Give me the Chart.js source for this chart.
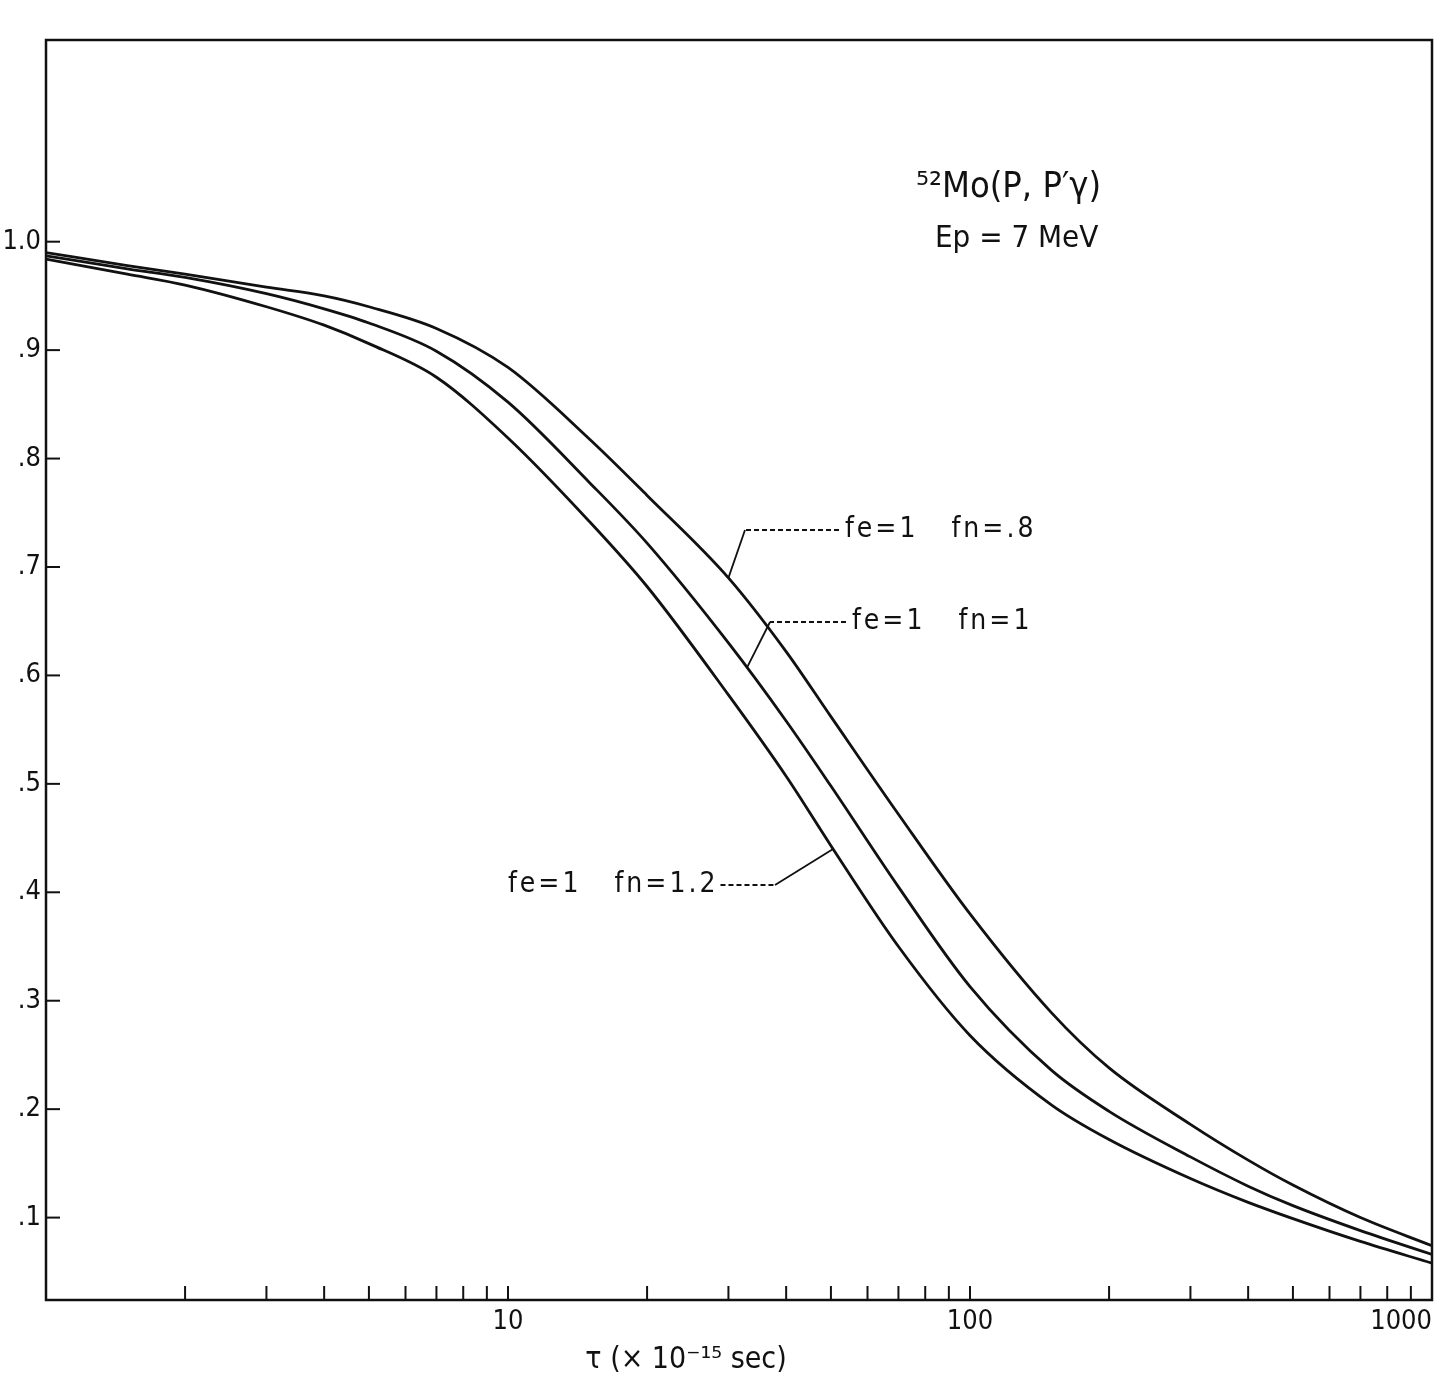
<!DOCTYPE html>
<html>
<head>
<meta charset="utf-8">
<script src="https://cdn.jsdelivr.net/npm/chart.js@4.4.1/dist/chart.umd.min.js"></script>
<style>
  html, body { margin: 0; padding: 0; background: #fff; }
  #wrap { width: 1448px; height: 1387px; }
</style>
</head>
<body>
<div id="wrap"><canvas id="chart" width="1448" height="1387"></canvas></div>
<script>
// lifetime tau (x 10^-15 sec)
var tau  = [1, 1.5, 2, 3, 4, 5, 7, 10, 15, 20, 30, 40, 50, 70, 100, 150, 200, 300, 400, 500, 700, 1000];
// attenuation, fe = 1, three values of fn
var fn08 = [.990, .978, .970, .958, .950, .940, .920, .884, .818, .766, .690, .622, .562, .472, .380, .289, .238, .186, .153, .130, .100, .074];
var fn10 = [.987, .975, .967, .952, .938, .925, .899, .852, .778, .722, .630, .558, .498, .405, .313, .236, .198, .156, .129, .111, .088, .066];
var fn12 = [.984, .970, .960, .940, .923, .906, .875, .819, .742, .682, .582, .507, .443, .350, .268, .204, .172, .136, .114, .099, .078, .058];

var xTicks = [1, 2, 3, 4, 5, 6, 7, 8, 9, 10, 20, 30, 40, 50, 60, 70, 80, 90, 100,
              200, 300, 400, 500, 600, 700, 800, 900, 1000];
var xLabels = { 10: '10', 100: '100', 1000: '1000' };
var yTicks = [.1, .2, .3, .4, .5, .6, .7, .8, .9, 1.0];
var yLabels = ['.1', '.2', '.3', '.4', '.5', '.6', '.7', '.8', '.9', '1.0'];

var FONT = "'DejaVu Sans Condensed', 'DejaVu Sans', sans-serif";
var INK = '#111';

// curve captions: text, which dataset, value where the leader meets the curve
var captions = [
  { text: 'fe=1   fn=.8',  ds: 0, touch: .69,  tx: 845, ty: 530, elbow: 745 },
  { text: 'fe=1   fn=1',   ds: 1, touch: .607, tx: 852, ty: 622, elbow: 770 },
  { text: 'fe=1   fn=1.2', ds: 2, touch: .44,  tx: 508, ty: 885, elbow: 775, right: true }
];

function series(vals) {
  return tau.map(function (t, i) { return { x: t, y: vals[i] }; });
}

// point on the drawn polyline of a dataset at a given value
function pointAt(chart, ds, v) {
  var pts = chart.getDatasetMeta(ds).data;
  var py = chart.scales.y.getPixelForValue(v);
  for (var i = 1; i < pts.length; i++) {
    var a = pts[i - 1], b = pts[i];
    if ((a.y - py) * (b.y - py) <= 0) {
      var f = (py - a.y) / (b.y - a.y);
      return { x: a.x + f * (b.x - a.x), y: py };
    }
  }
  return null;
}

var decor = {
  id: 'decor',
  afterDraw: function (chart) {
    var ctx = chart.ctx, a = chart.chartArea;
    var xs = chart.scales.x, ys = chart.scales.y;
    ctx.save();
    ctx.strokeStyle = INK;
    ctx.fillStyle = INK;

    // frame
    ctx.lineWidth = 2.5;
    ctx.strokeRect(a.left, a.top, a.right - a.left, a.bottom - a.top);

    // inward tick marks
    ctx.lineWidth = 2;
    xTicks.forEach(function (t) {
      var px = xs.getPixelForValue(t);
      ctx.beginPath();
      ctx.moveTo(px, a.bottom);
      ctx.lineTo(px, a.bottom - 14);
      ctx.stroke();
    });
    yTicks.forEach(function (v) {
      var py = ys.getPixelForValue(v);
      ctx.beginPath();
      ctx.moveTo(a.left, py);
      ctx.lineTo(a.left + 14, py);
      ctx.stroke();
    });

    // captions with leaders
    ctx.font = '28px ' + FONT;
    ctx.letterSpacing = '3px';
    ctx.textBaseline = 'middle';
    captions.forEach(function (c) {
      var p = pointAt(chart, c.ds, c.touch);
      ctx.textAlign = 'left';
      ctx.fillText(c.text, c.tx, c.ty);
      var w = ctx.measureText(c.text).width;
      var start = c.right ? c.tx + w + 2 : c.tx - 6;
      ctx.lineWidth = 1.8;
      ctx.setLineDash([5, 3]);
      ctx.beginPath();
      ctx.moveTo(start, c.ty);
      ctx.lineTo(c.elbow, c.ty);
      ctx.stroke();
      ctx.setLineDash([]);
      if (p) {
        ctx.beginPath();
        ctx.moveTo(c.elbow, c.ty);
        ctx.lineTo(p.x, p.y);
        ctx.stroke();
      }
    });
    ctx.letterSpacing = '0px';

    // reaction note
    ctx.textAlign = 'left';
    ctx.textBaseline = 'alphabetic';
    ctx.font = '36px ' + FONT;
    ctx.fillText('\u2075\u00b2Mo(P, P\u2032\u03b3)', 916, 197);
    ctx.font = '31px ' + FONT;
    ctx.fillText('Ep = 7 MeV', 935, 247);

    // axis title
    ctx.textAlign = 'center';
    ctx.font = '30px ' + FONT;
    ctx.fillText('\u03c4 (\u00d7 10\u207b\u00b9\u2075 sec)', 686, 1368);
    ctx.restore();
  }
};

var lineStyle = { borderColor: INK, borderWidth: 2.8, pointRadius: 0, fill: false,
                  cubicInterpolationMode: 'monotone' };

new Chart(document.getElementById('chart'), {
  type: 'line',
  data: {
    datasets: [
      Object.assign({ label: 'fe=1 fn=.8',  data: series(fn08) }, lineStyle),
      Object.assign({ label: 'fe=1 fn=1',   data: series(fn10) }, lineStyle),
      Object.assign({ label: 'fe=1 fn=1.2', data: series(fn12) }, lineStyle)
    ]
  },
  options: {
    responsive: false,
    animation: false,
    devicePixelRatio: 1,
    layout: { padding: { top: 40, right: 16, bottom: 0, left: 0 } },
    plugins: { legend: { display: false }, tooltip: { enabled: false } },
    scales: {
      x: {
        type: 'logarithmic',
        min: 1, max: 1000,
        grid: { display: false, drawTicks: false },
        border: { display: false },
        afterBuildTicks: function (s) { s.ticks = xTicks.map(function (t) { return { value: t }; }); },
        afterFit: function (s) { s.height = 87; },
        ticks: {
          autoSkip: false, maxRotation: 0, align: 'inner', padding: 6, color: INK,
          font: { family: FONT, size: 27 },
          callback: function (v) { return xLabels[v] || ''; }
        }
      },
      y: {
        type: 'linear',
        min: 0.024, max: 1.186,
        grid: { display: false, drawTicks: false },
        border: { display: false },
        afterBuildTicks: function (s) { s.ticks = yTicks.map(function (v) { return { value: v }; }); },
        afterFit: function (s) { s.width = 46; },
        ticks: {
          padding: 5, color: INK,
          font: { family: FONT, size: 27 },
          callback: function (v, i) { return yLabels[i]; }
        }
      }
    }
  },
  plugins: [decor]
});
</script>
</body>
</html>
